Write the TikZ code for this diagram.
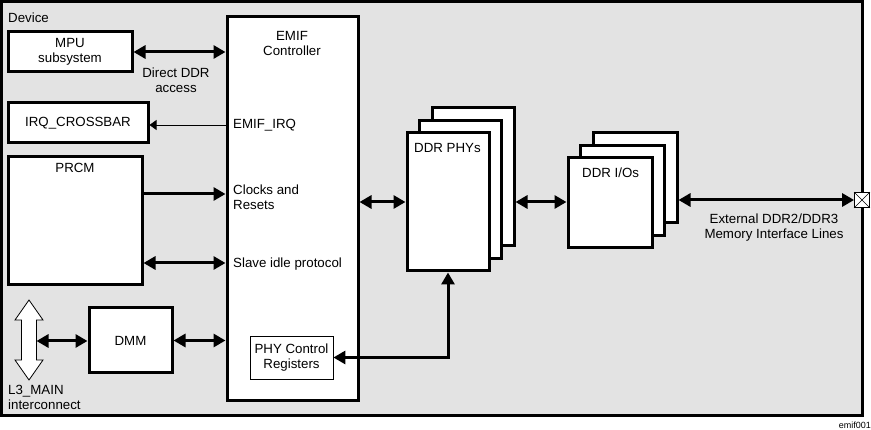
\documentclass[tikz,border=0pt]{standalone}
\usepackage{fontspec}
\setmainfont{Liberation Sans}
\usetikzlibrary{arrows.meta}
\definecolor{devgray}{RGB}{227,227,227}
\begin{document}
\begin{tikzpicture}[x=1pt,y=-1pt,
  font=\fontsize{13.3}{15}\selectfont,
  blk/.style={draw, line width=3pt, fill=white, inner sep=0pt},
  thinblk/.style={draw, line width=0.8pt, fill=white, inner sep=0pt},
  lbl/.style={inner sep=0pt, align=left},
  dbl/.style={line width=3pt, {Triangle[length=12pt,width=13pt]}-{Triangle[length=12pt,width=13pt]}},
  sgl/.style={line width=3pt, -{Triangle[length=12pt,width=13pt]}},
  thinarr/.style={line width=0.8pt, -{Triangle[length=7pt,width=10pt]}}]
\useasboundingbox (0,0) rectangle (871,430);
% device frame
\draw[line width=3pt, fill=devgray] (1.5,1.5) rectangle (862.5,415.5);
\node[lbl, anchor=west] (dev) at (8,18) {Device};
% left blocks
\node[blk, minimum width=124pt, minimum height=40pt, align=center] (mpu) at (70,52) {MPU\\subsystem};
\node[blk, minimum width=140pt, minimum height=40pt] (irq) at (78,123) {IRQ\_CROSSBAR};
\node[blk, minimum width=134pt, minimum height=128pt] (prcm) at (75,221) {};
\node[lbl] (prcmlbl) at (75,168) {PRCM};
\node[blk, minimum width=83pt, minimum height=65pt] (dmm) at (130.5,340.5) {DMM};
% EMIF controller
\node[blk, minimum width=131pt, minimum height=384pt] (emif) at (292.5,209) {};
\node[lbl, align=center] (emiflbl) at (292,43) {EMIF\\Controller};
\node[thinblk, minimum width=83pt, minimum height=43pt, align=center] (phyctl) at (291.5,357.5) {PHY Control\\Registers};
% DDR PHYs stack
\node[blk, minimum width=82pt, minimum height=138pt] (phy3) at (473,177) {};
\node[blk, minimum width=82pt, minimum height=138pt] (phy2) at (460.5,189.5) {};
\node[blk, minimum width=82pt, minimum height=138pt] (phy1) at (448,202) {};
\node[lbl, anchor=west] (phylbl) at (414,148) {DDR PHYs};
% DDR I/Os stack
\node[blk, minimum width=84pt, minimum height=90pt] (io3) at (635,178) {};
\node[blk, minimum width=84pt, minimum height=90pt] (io2) at (622.5,190.5) {};
\node[blk, minimum width=84pt, minimum height=90pt] (io1) at (610,203) {};
\node[lbl, anchor=west] (iolbl) at (582,173) {DDR I/Os};
% terminal
\node[draw, line width=0.8pt, fill=white, minimum size=15pt, inner sep=0pt] (term) at (862,200) {};
\draw[line width=0.6pt] (term.north west) -- (term.south east) (term.north east) -- (term.south west);
% L3 main double arrow
\draw[line width=0.8pt, fill=white] (29,300) -- (43,320) -- (36.5,320) -- (36.5,360) -- (43,360) -- (29,380) -- (15,360) -- (21.5,360) -- (21.5,320) -- (15,320) -- cycle;
\coordinate (l3) at (36.5,341);
\node[lbl, anchor=west] (l3lbl) at (8,397) {L3\_MAIN\\interconnect};
% labels
\node[lbl, align=center] (ddrlbl) at (176,80) {Direct DDR\\access};
\node[lbl, anchor=west] (irqlbl) at (233,125) {EMIF\_IRQ};
\node[lbl, anchor=west] (clklbl) at (233,197.5) {Clocks and\\Resets};
\node[lbl, anchor=west] (slvlbl) at (233,264) {Slave idle protocol};
\node[lbl, align=center] (extlbl) at (774,228) {External DDR2/DDR3\\Memory Interface Lines};
\node[lbl, anchor=east, font=\fontsize{9}{10}\selectfont] (fig) at (871,425) {emif001};
% helper coordinates
\coordinate (yclk) at (0,194);
\coordinate (yslv) at (0,263);
\coordinate (ydata) at (0,202);
\coordinate (yext) at (0,200);
% connectors
\draw[dbl] (mpu.east) -- (emif.west |- mpu.east);
\draw[thinarr] (emif.west |- irqlbl.west) -- (irq.east |- irqlbl.west);
\draw[sgl] (prcm.east |- yclk) -- (emif.west |- yclk);
\draw[dbl] (prcm.east |- yslv) -- (emif.west |- yslv);
\draw[dbl] (l3) -- (dmm.west |- l3);
\draw[dbl] (dmm.east) -- (emif.west |- dmm.east);
\draw[dbl] (emif.east |- ydata) -- (phy1.west |- ydata);
\draw[dbl] (phy3.east |- ydata) -- (io1.west |- ydata);
\draw[dbl] (io3.east |- yext) -- (term.west);
\draw[dbl] (phyctl.east) -| (phy1.south);
\end{tikzpicture}
\end{document}
